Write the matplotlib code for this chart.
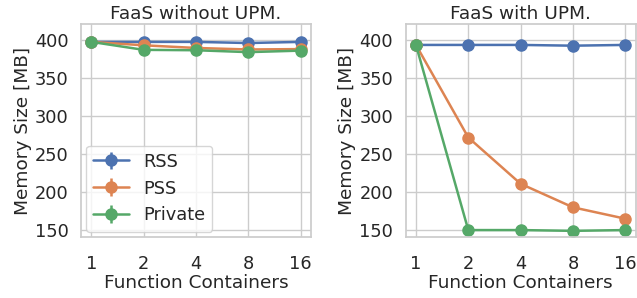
import matplotlib
matplotlib.use('Agg')
import matplotlib.pyplot as plt
import seaborn as sns

containers = ['1', '2', '4', '8', '16']
series = ['RSS', 'PSS', 'Private']

# memory size in MB
no_upm = {
    'RSS': [398, 398, 398, 396.5, 398],
    'PSS': [398, 393.5, 390, 388, 388.5],
    'Private': [398, 387.5, 387, 384.5, 386.5],
}
with_upm = {
    'RSS': [394, 394, 394, 393, 394],
    'PSS': [394, 272, 211, 180, 165],
    'Private': [394, 150, 150, 149, 150],
}
err = 1.0

sns.set_theme(style='whitegrid')
plt.rcParams['font.family'] = ['DejaVu Sans']
colors = sns.color_palette('deep')

fig, axes = plt.subplots(1, 2, figsize=(6.37, 2.98), dpi=100)
fig.subplots_adjust(left=0.127, right=0.998, top=0.918, bottom=0.205, wspace=0.41)

for ax, data, title in zip(axes, [no_upm, with_upm], ['FaaS without UPM.', 'FaaS with UPM.']):
    x = range(len(containers))
    for i, name in enumerate(series):
        ax.errorbar(x, data[name], yerr=err, label=name, color=colors[i],
                    marker='o', markersize=8, linewidth=1.8)
    ax.set_xticks(list(x))
    ax.set_xticklabels(containers)
    ax.set_ylim(141, 421)
    ax.set_yticks([150, 200, 250, 300, 350, 400])
    ax.set_title(title, fontsize=13.3, pad=4)
    ax.set_xlabel('Function Containers', fontsize=13.3, labelpad=1)
    ax.set_ylabel('Memory Size [MB]', fontsize=13.3, labelpad=2)
    ax.tick_params(axis='y', labelsize=12.8, pad=3)
    ax.tick_params(axis='x', labelsize=12.8, pad=7)

axes[0].legend(loc='lower left', fontsize=12.8, handlelength=2, borderaxespad=0.3)

fig.savefig('out.png', dpi=100)
